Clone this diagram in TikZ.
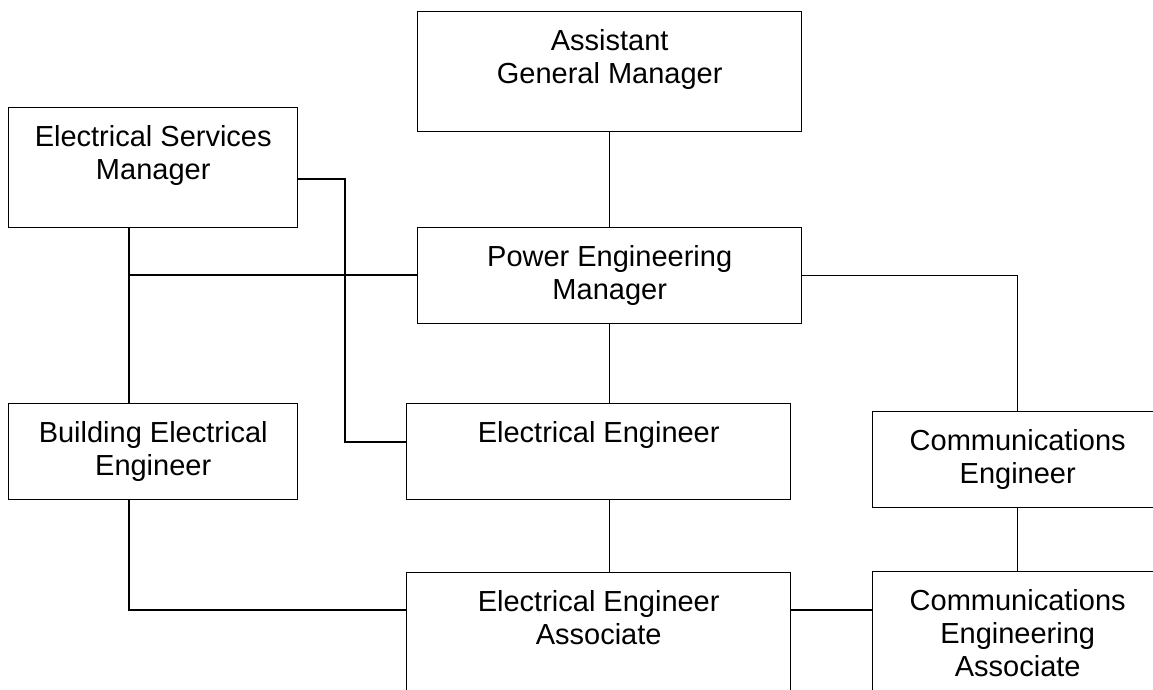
\documentclass[tikz,border=0pt]{standalone}
\usepackage{fontspec}
\setmainfont{Liberation Sans}
\begin{document}
\begin{tikzpicture}[x=1pt,y=-1pt,
  box/.style={draw, line width=1.4pt, inner sep=0pt, anchor=north west},
  lbl/.style={anchor=north, yshift=-18pt, inner sep=0pt, align=center,
    font=\fontsize{29}{33}\selectfont},
  conn/.style={line width=1.4pt}]
\useasboundingbox (0,0) rectangle (1153,690);
% boxes
\node[box, minimum width=384pt, minimum height=120pt] (agm) at (417,11) {};
\node[box, minimum width=289pt, minimum height=120pt] (esm) at (8,107) {};
\node[box, minimum width=384pt, minimum height=96pt] (pem) at (417,227) {};
\node[box, minimum width=289pt, minimum height=96pt] (bee) at (8,403) {};
\node[box, minimum width=384pt, minimum height=96pt] (ee) at (406,403) {};
\node[box, minimum width=290pt, minimum height=96pt] (ce) at (872,411) {};
\node[box, minimum width=384pt, minimum height=130pt] (eea) at (406,572) {};
\node[box, minimum width=290pt, minimum height=130pt] (cea) at (872,571) {};
% labels
\node[lbl] (agmt) at (agm.north) {Assistant\\General Manager};
\node[lbl] (esmt) at (esm.north) {Electrical Services\\Manager};
\node[lbl] (pemt) at (pem.north) {Power Engineering\\Manager};
\node[lbl] (beet) at (bee.north) {Building Electrical\\Engineer};
\node[lbl] (eet) at (ee.north) {Electrical Engineer};
\node[lbl] (cet) at (ce.north) {Communications\\Engineer};
\node[lbl] (eeat) at (eea.north) {Electrical Engineer\\Associate};
\node[lbl] (ceat) at (cea.north) {Communications\\Engineering\\Associate};
% junction coordinates
\coordinate (c1) at (345,179);
\coordinate (c2) at (129,275);
\coordinate (c3) at (129,610);
\coordinate (c4) at (345,442);
% connectors
\draw[conn] (agm.south) -- (pem.north);
\draw[conn] (esm.east |- c1) -- (c1) -- (c4) -- (ee.west |- c4);
\draw[conn] (esm.south -| c2) -- (bee.north -| c2);
\draw[conn] (c2) -- (pem.west |- c2);
\draw[conn] (pem.east) -| (ce.north);
\draw[conn] (pem.south) -- (pem.south |- ee.north);
\draw[conn] (ee.south -| pem.south) -- (eea.north -| pem.south);
\draw[conn] (bee.south -| c3) -- (c3) -- (eea.west |- c3);
\draw[conn] (eea.east |- c3) -- (cea.west |- c3);
\draw[conn] (ce.south) -- (cea.north);
\end{tikzpicture}
\end{document}
